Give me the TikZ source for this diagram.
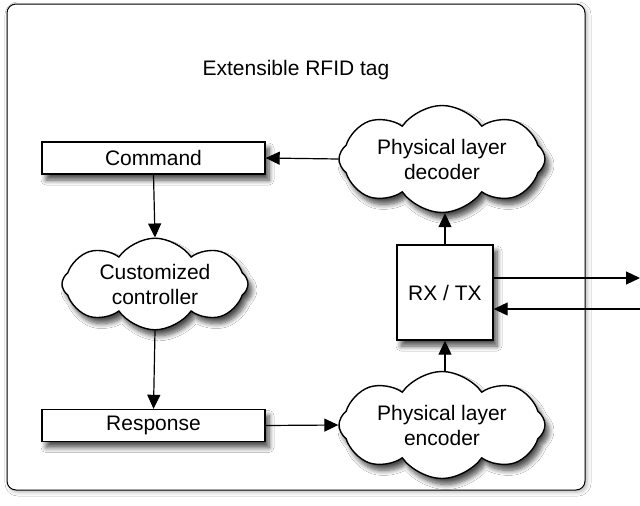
\documentclass[tikz,border=0pt]{standalone}
\usepackage{fontspec}
\setmainfont{Liberation Sans}
\usetikzlibrary{shapes.symbols,shadows.blur,arrows.meta}
\begin{document}
\begin{tikzpicture}[x=1pt,y=-1pt,
  every node/.style={font=\fontsize{21}{25}\selectfont, align=center},
  myshadow/.style={blur shadow={shadow xshift=4pt, shadow yshift=-6pt, shadow blur radius=5pt, shadow blur steps=8, shadow opacity=70}},
  rectbox/.style={draw, line width=1.4pt, fill=white, minimum width=223pt, minimum height=32pt, inner sep=0pt, myshadow},
  cloudbox/.style={cloud, cloud puffs=8, cloud puff arc=110, draw, line width=1.4pt, fill=white, aspect=2.4,
     minimum width=200pt, minimum height=80pt, inner sep=0pt, myshadow},
  sqbox/.style={draw, line width=1.4pt, fill=white, minimum width=96pt, minimum height=95pt, inner sep=0pt, myshadow},
  conn/.style={-{Triangle[length=14pt,width=13pt]}, line width=1.2pt}]
\useasboundingbox (0,0) rectangle (640,506);
\fill[white] (0,0) rectangle (640,506);
\node[draw, line width=1pt, rounded corners=9pt, fill=white, minimum width=578pt, minimum height=486pt,
  blur shadow={shadow xshift=2pt, shadow yshift=-2pt, shadow blur radius=4pt, shadow opacity=30}] (tag) at (296,247) {};
\node (title) at (296,70) {Extensible RFID tag};
\node[rectbox] (cmd) at (153.5,158) {Command};
\node[cloudbox, minimum width=186pt, minimum height=82pt] (ctrl) at (155,284) {Customized\\controller};
\node[rectbox] (resp) at (153.5,425.5) {Response};
\node[cloudbox, minimum width=206pt] (dec) at (442,159) {Physical layer\\decoder};
\node[sqbox] (rx) at (445,292.5) {RX / TX};
\node[cloudbox, minimum width=206pt] (enc) at (442,425) {Physical layer\\encoder};
\coordinate (outR) at (640,278);
\coordinate (inR) at (640,309);
\draw[conn] (cmd.south) -- (ctrl.north);
\draw[conn] (ctrl.south) -- (resp.north);
\draw[conn] (resp.east) -- (enc.west);
\draw[conn] (enc.north -| rx.south) -- (rx.south);
\draw[conn] (rx.north) -- (rx.north |- dec.south);
\draw[conn] (dec.west) -- (cmd.east);
\draw[conn] (rx.east |- outR) -- (outR);
\draw[conn] (inR) -- (rx.east |- inR);
\end{tikzpicture}
\end{document}
